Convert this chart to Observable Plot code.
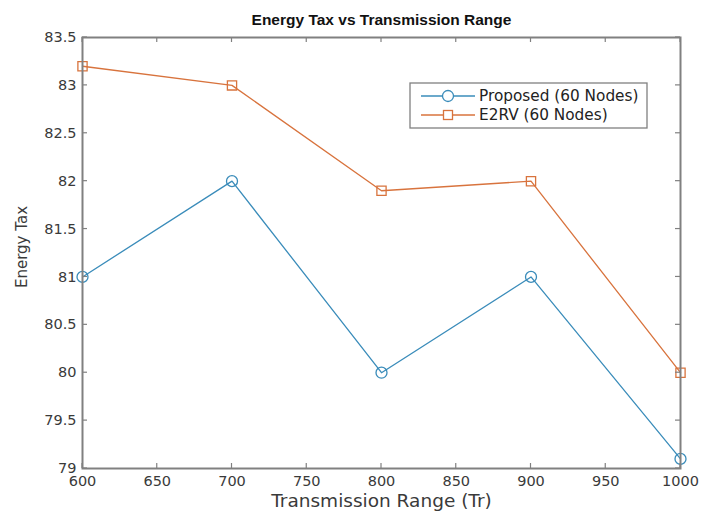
<!DOCTYPE html>
<html>
<head>
<meta charset="utf-8">
<script src="https://cdn.jsdelivr.net/npm/d3@7"></script>
<script src="https://cdn.jsdelivr.net/npm/@observablehq/plot@0.6"></script>
<style>
  html, body { margin: 0; padding: 0; background: #fff; }
  #chart { position: relative; width: 703px; height: 520px; }
</style>
</head>
<body>
<div id="chart"></div>
<script>
const ranges = [600, 700, 800, 900, 1000];
const proposed = [81, 82, 80, 81, 79.1];
const e2rv = [83.2, 83, 81.9, 82, 80];
const seriesNames = ["Proposed (60 Nodes)", "E2RV (60 Nodes)"];
const seriesColors = ["#3a8cba", "#d8733d"];
const xTicks = [600, 650, 700, 750, 800, 850, 900, 950, 1000];
const yTicks = [79, 79.5, 80, 80.5, 81, 81.5, 82, 82.5, 83, 83.5];

const rows = [];
ranges.forEach((r, i) => rows.push({x: r, y: proposed[i], s: seriesNames[0]}));
ranges.forEach((r, i) => rows.push({x: r, y: e2rv[i], s: seriesNames[1]}));
const pRows = rows.filter(d => d.s === seriesNames[0]);
const eRows = rows.filter(d => d.s === seriesNames[1]);

const font = "'DejaVu Sans', 'Liberation Sans', Arial, sans-serif";
const titleFont = "'Liberation Sans', Arial, Helvetica, sans-serif";
const textColor = "#3a3a3a";
const fmt = d => String(d);

const plot = Plot.plot({
  width: 703,
  height: 520,
  marginLeft: 82,
  marginRight: 23,
  marginTop: 37,
  marginBottom: 52,
  style: {fontFamily: font, fontSize: "14.5px", color: textColor, background: "#fff"},
  x: {domain: [600, 1000], ticks: xTicks},
  y: {domain: [79, 83.5], ticks: yTicks},
  marks: [
    Plot.axisX({anchor: "bottom", ticks: xTicks, tickSize: 0, tickPadding: 7, tickFormat: fmt, label: null, fill: textColor, fontSize: 14.5}),
    Plot.axisY({anchor: "left", ticks: yTicks, tickSize: 0, tickPadding: 6, tickFormat: fmt, label: null, fill: textColor, fontSize: 14.5}),
    Plot.line(pRows, {x: "x", y: "y", stroke: seriesColors[0], strokeWidth: 1.3}),
    Plot.line(eRows, {x: "x", y: "y", stroke: seriesColors[1], strokeWidth: 1.3}),
    Plot.dot(pRows, {x: "x", y: "y", r: 5.5, symbol: "circle", stroke: seriesColors[0], fill: "none", strokeWidth: 1.3, clip: false}),
    Plot.dot(eRows, {x: "x", y: "y", r: 5.2, symbol: "square", stroke: seriesColors[1], fill: "none", strokeWidth: 1.3, clip: false}),
    Plot.frame({stroke: "#808080", strokeWidth: 2}),
    Plot.text(["Energy Tax vs Transmission Range"], {frameAnchor: "top", dy: -24, fontWeight: "bold", fontSize: 15.5, fontFamily: titleFont, fill: "#111"}),
    Plot.text(["Transmission Range (Tr)"], {frameAnchor: "bottom", dy: 38, fontSize: 18.5, fill: textColor}),
    Plot.text(["Energy Tax"], {frameAnchor: "left", textAnchor: "middle", dx: -60, dy: -6, rotate: -90, fontSize: 15, fill: textColor})
  ]
});

const svg = d3.select(plot);
const xs = plot.scale("x"), ys = plot.scale("y");
const x0 = xs.apply(600), x1 = xs.apply(1000);
const y0 = ys.apply(79), y1 = ys.apply(83.5);
const tickG = svg.append("g").attr("stroke", "#808080").attr("stroke-width", 1.2);
xTicks.forEach(t => {
  const px = xs.apply(t);
  tickG.append("line").attr("x1", px).attr("x2", px).attr("y1", y0).attr("y2", y0 - 5);
  tickG.append("line").attr("x1", px).attr("x2", px).attr("y1", y1).attr("y2", y1 + 5);
});
yTicks.forEach(t => {
  const py = ys.apply(t);
  tickG.append("line").attr("x1", x0).attr("x2", x0 + 5).attr("y1", py).attr("y2", py);
  tickG.append("line").attr("x1", x1).attr("x2", x1 - 5).attr("y1", py).attr("y2", py);
});

// Legend box
const lg = svg.append("g").attr("transform", "translate(410,83)");
lg.append("rect").attr("width", 237).attr("height", 45)
  .attr("fill", "#fff").attr("stroke", "#808080").attr("stroke-width", 1.3);
seriesNames.forEach((name, i) => {
  const yy = 13 + i * 19;
  lg.append("line").attr("x1", 11).attr("x2", 65).attr("y1", yy).attr("y2", yy)
    .attr("stroke", seriesColors[i]).attr("stroke-width", 1.3);
  if (i === 0) {
    lg.append("circle").attr("cx", 38).attr("cy", yy).attr("r", 5.5)
      .attr("fill", "#fff").attr("stroke", seriesColors[i]).attr("stroke-width", 1.3);
  } else {
    lg.append("rect").attr("x", 33.5).attr("y", yy - 4.5).attr("width", 9).attr("height", 9)
      .attr("fill", "#fff").attr("stroke", seriesColors[i]).attr("stroke-width", 1.3);
  }
  lg.append("text").attr("x", 69).attr("y", yy).attr("dy", "0.35em")
    .attr("text-anchor", "start")
    .attr("font-family", font).attr("font-size", 15.3).attr("fill", "#222").text(name);
});

document.getElementById("chart").appendChild(plot);
</script>
</body>
</html>
